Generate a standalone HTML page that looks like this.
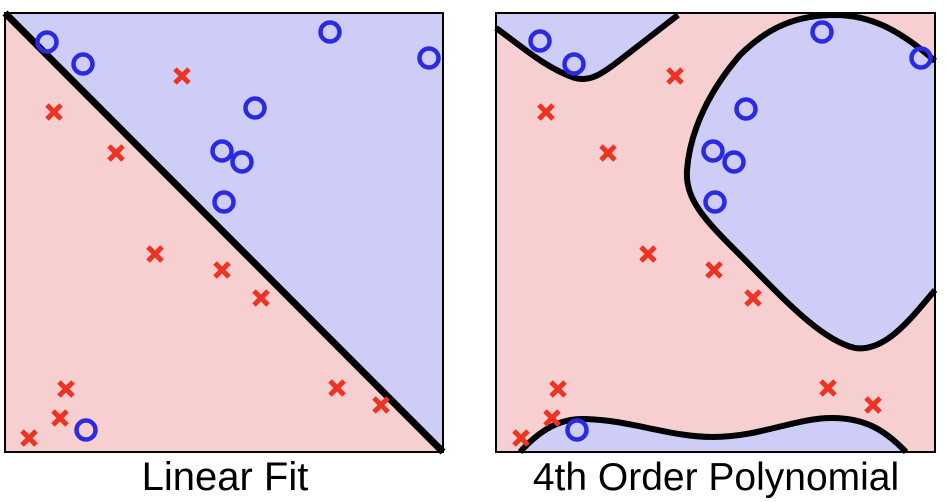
<!DOCTYPE html>
<html><head><style>body{margin:0;background:#fff}svg{display:block}</style></head><body>
<svg width="946" height="502" viewBox="0 0 946 502" xmlns="http://www.w3.org/2000/svg">
<defs>
<g id="o"><circle r="9.5" fill="none" stroke="#2a2ae6" stroke-width="4.5"/></g>
<g id="x" stroke="#ee3322" stroke-width="5"><line x1="-7" y1="-7" x2="7" y2="7"/><line x1="-7" y1="7" x2="7" y2="-7"/></g>
</defs>
<rect x="5" y="13" width="438" height="439" fill="#f7cfd0"/>
<polygon points="5,13 443,13 443,452" fill="#cdcdf8"/>
<line x1="5" y1="13" x2="443" y2="452" stroke="#000" stroke-width="7"/>
<rect x="5" y="13" width="438" height="439" fill="none" stroke="#000" stroke-width="2"/>
<g>
<use href="#o" x="47" y="42"/><use href="#o" x="83" y="64"/><use href="#o" x="330" y="32"/><use href="#o" x="429" y="58"/><use href="#o" x="255" y="108"/><use href="#o" x="222" y="151"/><use href="#o" x="242" y="162"/><use href="#o" x="224" y="202"/><use href="#o" x="86" y="430"/>
<use href="#x" x="182" y="76"/><use href="#x" x="54" y="112"/><use href="#x" x="116" y="153"/><use href="#x" x="155" y="254"/><use href="#x" x="222" y="270"/><use href="#x" x="261" y="298"/><use href="#x" x="66" y="389"/><use href="#x" x="60" y="418"/><use href="#x" x="29" y="438"/><use href="#x" x="337" y="388"/><use href="#x" x="381" y="405"/>
</g>
<rect x="496" y="13" width="439" height="439" fill="#f7cfd0"/>
<path d="M496,28 C520,45 545,68 575,78 C590,82 602,74 620,60 L678,15 L678,13 L496,13 Z" fill="#cdcdf8"/>
<path d="M496,28 C520,45 545,68 575,78 C590,82 602,74 620,60 L678,15" fill="none" stroke="#000" stroke-width="6"/>
<path d="M935,61 C900,30 870,15 835,15 C800,15 770,25 740,55 C710,90 690,130 687,170 C685,200 705,220 740,255 C780,295 820,340 855,348 C885,352 910,320 935,290 Z" fill="#cdcdf8"/>
<path d="M935,61 C900,30 870,15 835,15 C800,15 770,25 740,55 C710,90 690,130 687,170 C685,200 705,220 740,255 C780,295 820,340 855,348 C885,352 910,320 935,290" fill="none" stroke="#000" stroke-width="6"/>
<path d="M520,452 C540,430 560,418 585,419 C630,420 670,437 713,437 C760,437 795,418 832,418 C865,418 885,430 906,452 Z" fill="#cdcdf8"/>
<path d="M520,452 C540,430 560,418 585,419 C630,420 670,437 713,437 C760,437 795,418 832,418 C865,418 885,430 906,452" fill="none" stroke="#000" stroke-width="6"/>
<rect x="496" y="13" width="439" height="439" fill="none" stroke="#000" stroke-width="2"/>
<g>
<use href="#o" x="540" y="41"/><use href="#o" x="574" y="64"/><use href="#o" x="822" y="32"/><use href="#o" x="921" y="58"/><use href="#o" x="746" y="109"/><use href="#o" x="713" y="151"/><use href="#o" x="734" y="162"/><use href="#o" x="715" y="202"/><use href="#o" x="577" y="430"/>
<use href="#x" x="675" y="76"/><use href="#x" x="546" y="112"/><use href="#x" x="608" y="153"/><use href="#x" x="648" y="254"/><use href="#x" x="714" y="270"/><use href="#x" x="753" y="298"/><use href="#x" x="558" y="389"/><use href="#x" x="552" y="418"/><use href="#x" x="521" y="438"/><use href="#x" x="828" y="388"/><use href="#x" x="873" y="405"/>
</g>
<text x="225" y="490" text-anchor="middle" font-family="Liberation Sans, sans-serif" font-size="40">Linear Fit</text>
<text x="716" y="490" text-anchor="middle" font-family="Liberation Sans, sans-serif" font-size="39">4th Order Polynomial</text>
</svg>
</body></html>
